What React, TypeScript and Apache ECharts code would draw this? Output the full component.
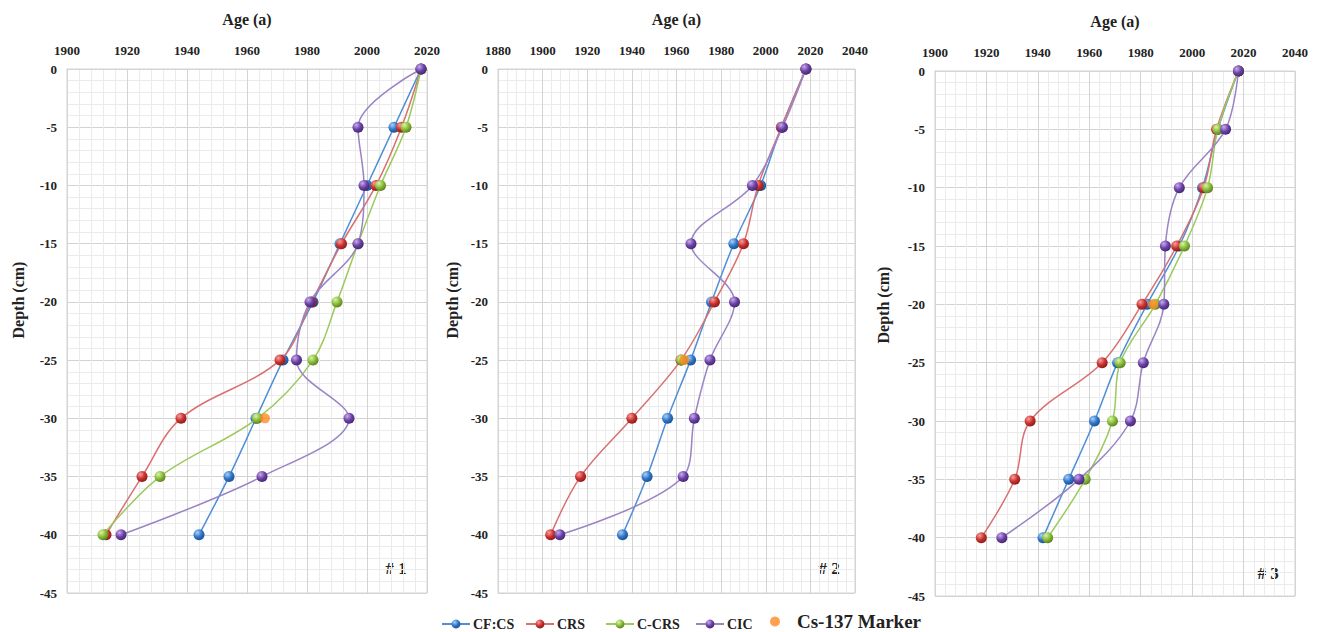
import React, { useEffect, useRef } from "react";
import * as echarts from "echarts";

const depths = [0, -5, -10, -15, -20, -25, -30, -35, -40];
const seriesNames = ["CF:CS", "CRS", "C-CRS", "CIC"];
const markerName = "Cs-137 Marker";

// Panel #1 ages (year) at each depth
const p1CFCS = [2018, 2009, 2000, 1991, 1982, 1972, 1963, 1954, 1944];
const p1CRS = [2018, 2011.5, 2003, 1991.5, 1981.5, 1971, 1938, 1925, 1913];
const p1CCRS = [2018, 2013, 2004.5, 1997, 1990, 1982, 1963.5, 1931, 1912];
const p1CIC = [2018, 1997, 1999, 1997, 1981, 1976.5, 1994, 1965, 1918];
const p1Cs137 = [[1966, -30]];

// Panel #2
const p2CFCS = [2018, 2007, 1997.7, 1985.7, 1975.7, 1966.3, 1956, 1946.8, 1935.8];
const p2CRS = [2018, 2007, 1996.6, 1990, 1977, 1962, 1940, 1917, 1903.6];
const p2CCRS = [null, null, null, null, null, 1962.3, null, null, null];
const p2CIC = [2018, 2007.5, 1994, 1966.5, 1986, 1975, 1968, 1963, 1907.7];
const p2Cs137 = [[1963.5, -25]];

// Panel #3
const p3CFCS = [2018, 2010, 2004, 1995, 1982.5, 1971, 1962, 1952, 1942];
const p3CRS = [2018, 2009.5, 2004.5, 1994, 1980.5, 1965, 1937, 1931, 1918];
const p3CCRS = [2018, 2010, 2006, 1997, 1985.7, 1972, 1969, 1958.4, 1943.8];
const p3CIC = [2018, 2013, 1995, 1989.6, 1989, 1981, 1976, 1956, 1926];
const p3Cs137 = [[1984.8, -20]];

const xMins = [1900, 1880, 1900];
const xMaxs = [2020, 2040, 2040];
const panelLabels = ["# 1", "# 2", "# 3"];

const FONT = "Liberation Serif";

const lineColors = ["#4f8fd6", "#d97070", "#9cc95c", "#9a84c6"];
const dotColors = [
  ["#a9d0fb", "#2f74c6", "#1a4f8f"],
  ["#f5a0a0", "#c8302c", "#8a1a18"],
  ["#dcf3a5", "#86ba38", "#577d1f"],
  ["#c8acf0", "#6b40a4", "#432670"],
];

const sphere = (c: string[]) => ({
  type: "radial",
  x: 0.35,
  y: 0.3,
  r: 0.75,
  colorStops: [
    { offset: 0, color: c[0] },
    { offset: 0.55, color: c[1] },
    { offset: 1, color: c[2] },
  ],
});

const panels = [
  { data: [p1CFCS, p1CRS, p1CCRS, p1CIC], cs: p1Cs137 },
  { data: [p2CFCS, p2CRS, p2CCRS, p2CIC], cs: p2Cs137 },
  { data: [p3CFCS, p3CRS, p3CCRS, p3CIC], cs: p3Cs137 },
];

const grids = [
  { left: 67, top: 69, width: 360, height: 524 },
  { left: 498, top: 69, width: 357, height: 524 },
  { left: 935, top: 71, width: 360, height: 525 },
];

export default function App() {
  const ref = useRef<HTMLDivElement>(null);
  useEffect(() => {
    if (!ref.current) return;
    const chart = echarts.init(ref.current, undefined, { renderer: "svg" });

    const xAxis = grids.map((_, i) => ({
      type: "value",
      gridIndex: i,
      position: "top",
      min: xMins[i],
      max: xMaxs[i],
      interval: 20,
      name: "Age (a)",
      nameLocation: "middle",
      nameGap: 42,
      nameTextStyle: { fontFamily: FONT, fontWeight: "bold", fontSize: 16, color: "#222" },
      axisLine: { show: true, lineStyle: { color: "#d4d4d4" } },
      axisTick: { show: false },
      axisLabel: {
        fontFamily: FONT,
        fontWeight: "bold",
        fontSize: 13,
        color: "#222",
        margin: 12,
        formatter: (v: number) => String(v),
      },
      splitLine: { show: true, lineStyle: { color: "#d3d3d3", width: 1 } },
      minorTick: { show: false, splitNumber: 5 },
      minorSplitLine: { show: true, lineStyle: { color: "#ebebeb", width: 1 } },
    }));

    const yAxis = grids.map((_, i) => ({
      type: "value",
      gridIndex: i,
      min: -45,
      max: 0,
      interval: 5,
      axisLine: { show: true, lineStyle: { color: "#d4d4d4" } },
      axisTick: { show: false },
      axisLabel: {
        fontFamily: FONT,
        fontWeight: "bold",
        fontSize: 13,
        color: "#222",
        margin: 10,
        formatter: (v: number) => String(v),
      },
      splitLine: { show: true, lineStyle: { color: "#d3d3d3", width: 1 } },
      minorTick: { show: false, splitNumber: 5 },
      minorSplitLine: { show: true, lineStyle: { color: "#ebebeb", width: 1 } },
    }));

    const series: any[] = [];
    panels.forEach((p, pi) => {
      p.data.forEach((arr, si) => {
        const pts = depths
          .map((d, k) => [arr[k], d])
          .filter((pt) => pt[0] !== null && pt[0] !== undefined);
        series.push({
          type: "line",
          name: seriesNames[si],
          xAxisIndex: pi,
          yAxisIndex: pi,
          data: pts,
          smooth: 0.35,
          symbol: "circle",
          symbolSize: 11,
          showSymbol: true,
          lineStyle: { color: lineColors[si], width: 1.5 },
          itemStyle: { color: sphere(dotColors[si]) as any },
          z: 2 + si,
        });
      });
      series.push({
        type: "scatter",
        name: markerName,
        xAxisIndex: pi,
        yAxisIndex: pi,
        data: p.cs,
        symbol: "circle",
        symbolSize: 10,
        itemStyle: { color: "#ff8a22" },
        z: 10,
      });
    });

    const legendBase = {
      top: 612,
      itemWidth: 28,
      itemHeight: 11,
      itemGap: 0,
      textStyle: { fontFamily: FONT, fontWeight: "bold", fontSize: 14, color: "#222", padding: [0, 0, 0, -2] },
    };
    const legendLefts = [436, 520, 600, 690];
    const legend: any[] = seriesNames.map((n, i) => ({
      ...legendBase,
      left: legendLefts[i],
      data: [n],
    }));
    legend.push({
      top: 607,
      left: 765,
      itemWidth: 10,
      itemHeight: 10,
      data: [markerName],
      textStyle: { fontFamily: FONT, fontWeight: "bold", fontSize: 19, color: "#222", padding: [0, 0, 0, 12] },
    });

    const depthPos = [
      [18, 300],
      [452, 300],
      [883, 305],
    ];
    const tagPos = [
      [396, 568],
      [829, 568],
      [1268, 573],
    ];
    const graphic: any[] = [];
    depthPos.forEach((p) => {
      graphic.push({
        type: "text",
        x: p[0],
        y: p[1],
        rotation: Math.PI / 2,
        style: {
          text: "Depth (cm)",
          fontFamily: FONT,
          fontWeight: "bold",
          fontSize: 16,
          fill: "#222",
          textAlign: "center",
          textVerticalAlign: "middle",
        },
      });
    });
    tagPos.forEach((p, i) => {
      graphic.push({
        type: "text",
        x: p[0],
        y: p[1],
        style: {
          text: panelLabels[i],
          fontFamily: FONT,
          fontWeight: "bold",
          fontSize: 17,
          fill: "#222",
          textAlign: "center",
          textVerticalAlign: "middle",
        },
      });
    });

    chart.setOption({
      animation: false,
      backgroundColor: "#ffffff",
      grid: grids.map((g) => ({ ...g, show: true, borderColor: "#d4d4d4", borderWidth: 1 })),
      xAxis,
      yAxis,
      series,
      legend,
      graphic,
    } as any);

    return () => chart.dispose();
  }, []);

  return (
    <div
      ref={ref}
      style={{ position: "fixed", left: 0, top: 0, width: 1320, height: 632, background: "#fff" }}
    />
  );
}
